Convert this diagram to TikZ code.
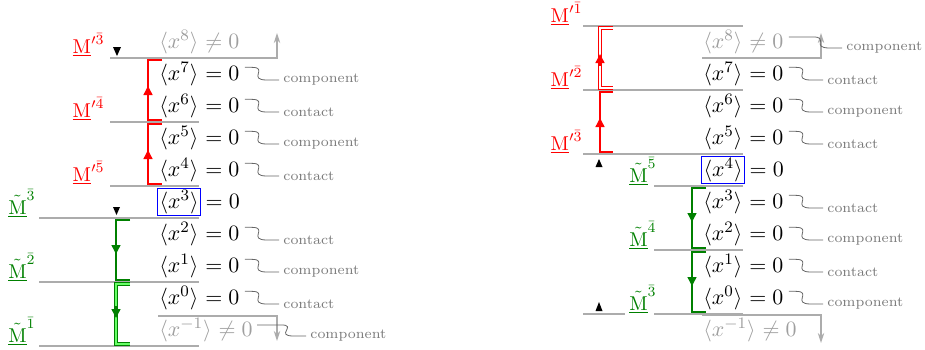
\documentclass[tikz,border=0pt]{standalone}
\usepackage{amsmath}
\usepackage{amssymb}
\usepackage{tikz}
\usetikzlibrary{arrows.meta,calc,positioning}
\usepackage{xcolor}
\definecolor{grn}{RGB}{0,128,0}
\tikzset{
  lvl/.style={line width=0.6pt, gray!65},
  outarr/.style={-{Stealth[length=5pt,width=3.2pt]}, line width=0.6pt, gray!65},
  rbr/.style={line width=0.7pt, red},
  gbr/.style={line width=0.7pt, grn},
  dbl/.style={double, double distance=0.8pt, line width=0.5pt},
  midtip/.style={-{Triangle[length=4.5pt,width=4.5pt]}},
  eqn/.style={inner sep=1pt, anchor=west, font=\fontsize{11}{13}\selectfont},
  rhs/.style={inner sep=1pt, anchor=base west, xshift=-2pt, font=\fontsize{11}{13}\selectfont},
  boxd/.style={draw=blue, line width=0.6pt, text=black},
  cmt/.style={inner sep=2pt, anchor=west, text=gray!95!black, font=\fontsize{7}{9}\selectfont},
  sq/.style={thin, black!60, to path={-- ++(#1,0) .. controls +(17,0) and ($(\tikztotarget)+(-32,0)$) .. ($(\tikztotarget)+(-12,0)$) -- (\tikztotarget)}},
  sq/.default=7,
  mlab/.style={anchor=base east, inner sep=0pt, font=\fontsize{10}{12}\selectfont},
}

\begin{document}
\begin{tikzpicture}[x=0.5pt,y=-0.5pt]
  \useasboundingbox (0,0) rectangle (925,349);

  % --- left: M' upwards, M~ downwards ---
  \draw[lvl] (110,58) -- (199,58);
  \draw[lvl] (110,122) -- (199,122);
  \draw[lvl] (110,186) -- (199,186);
  \draw[lvl] (39,218) -- (199,218);
  \draw[lvl] (39,282) -- (199,282);
  \draw[lvl] (39,346) -- (199,346);
  \draw[outarr] (158,58) -- (277,58) -- (277,33);
  \draw[outarr] (158,316) -- (277,316) -- (277,341);

  \foreach \k/\yy in {7/74,6/106,5/138,4/170,2/234,1/266,0/298}{
    \node[eqn] (lx\k) at (157,\yy) {$\langle x^{\k}\rangle$};
    \node[rhs] (lr\k) at (lx\k.base east) {${}=0$};
  }
  \node[eqn,boxd] (lx3) at (157,202) {$\langle x^{3}\rangle$};
  \node[rhs] (lr3) at (lx3.base east) {${}=0$};
  \node[eqn,text=gray!75] (lx8) at (157,42) {$\langle x^{8}\rangle$};
  \node[rhs,text=gray!75] (lr8) at (lx8.base east) {${}\neq0$};
  \node[eqn,text=gray!75] (lxm) at (157,330) {$\langle x^{-1}\rangle$};
  \node[rhs,text=gray!75] (lrm) at (lxm.base east) {${}\neq0$};

  \foreach \k/\yy/\txt in {7/74/component,6/106/contact,5/138/component,4/170/contact,2/234/contact,1/266/component,0/298/contact}{
    \node[cmt] (lc\k) at (279,\yy+6) {\txt};
    \draw[sq] ($(lr\k.east)+(3,-6)$) to (lc\k.west);
  }
  \node[cmt] (lcm) at (306,336) {component};
  \draw[sq=24] ($(lrm.east)+(2,-6)$) to (lcm.west);

  \draw[rbr] (162,60) -| (148,120) -- (162,120);
  \draw[rbr,midtip] (148,98) -- (148,86);
  \draw[rbr] (162,124) -| (148,184) -- (162,184);
  \draw[rbr,midtip] (148,162) -- (148,150);
  \draw[gbr] (130,220) -| (116,280) -- (130,280);
  \draw[gbr,midtip] (116,242) -- (116,254);
  \draw[gbr,dbl,double=green!60] (130,284) -| (116,344) -- (130,344);
  \draw[gbr,midtip] (116,306) -- (116,318);

  \node[mlab,text=red] (mp3) at (105,53) {$\underline{\mathrm{M}}'^{\bar{3}}$};
  \node[mlab,text=red] (mp4) at (105,117) {$\underline{\mathrm{M}}'^{\bar{4}}$};
  \node[mlab,text=red] (mp5) at (105,181) {$\underline{\mathrm{M}}'^{\bar{5}}$};
  \node[mlab,text=grn] (mt3) at (36,214) {$\underline{\tilde{\mathrm{M}}}^{\bar{3}}$};
  \node[mlab,text=grn] (mt2) at (36,278) {$\underline{\tilde{\mathrm{M}}}^{\bar{2}}$};
  \node[mlab,text=grn] (mt1) at (36,342) {$\underline{\tilde{\mathrm{M}}}^{\bar{1}}$};

  \fill (113,47) -- (121,47) -- (117,56) -- cycle;
  \fill (113,207) -- (120,207) -- (116.5,215) -- cycle;

  % --- right: same frame, roles swapped ---
  \begin{scope}[xshift=272pt]
    \draw[lvl] (39,26) -- (199,26);
    \draw[lvl] (39,90) -- (199,90);
    \draw[lvl] (39,154) -- (199,154);
    \draw[lvl] (110,186) -- (199,186);
    \draw[lvl] (110,250) -- (199,250);
    \draw[lvl] (39,314) -- (81,314);
    \draw[lvl] (110,314) -- (199,314);
    \draw[outarr] (158,58) -- (277,58) -- (277,33);
    \draw[outarr] (158,315) -- (277,315) -- (277,343);

    \foreach \k/\yy in {7/74,6/106,5/138,3/202,2/234,1/266,0/298}{
      \node[eqn] (rx\k) at (157,\yy) {$\langle x^{\k}\rangle$};
      \node[rhs] (rr\k) at (rx\k.base east) {${}=0$};
    }
    \node[eqn,boxd] (rx4) at (157,170) {$\langle x^{4}\rangle$};
    \node[rhs] (rr4) at (rx4.base east) {${}=0$};
    \node[eqn,text=gray!75] (rx8) at (157,42) {$\langle x^{8}\rangle$};
    \node[rhs,text=gray!75] (rr8) at (rx8.base east) {${}\neq0$};
    \node[eqn,text=gray!75] (rxm) at (157,330) {$\langle x^{-1}\rangle$};
    \node[rhs,text=gray!75] (rrm) at (rxm.base east) {${}\neq0$};

    \foreach \k/\yy/\txt in {7/74/contact,6/106/component,5/138/contact,3/202/contact,2/234/component,1/266/contact,0/298/component}{
      \node[cmt] (rc\k) at (279,\yy+6) {\txt};
      \draw[sq] ($(rr\k.east)+(3,-6)$) to (rc\k.west);
    }
    \node[cmt] (rc8) at (298,48) {component};
    \draw[sq=24] ($(rr8.east)+(3,-6)$) to (rc8.west);

    \draw[rbr,dbl,double=white] (69,28) -| (56,88) -- (69,88);
    \draw[rbr,midtip] (56,66) -- (56,54);
    \draw[rbr] (69,92) -| (56,152) -- (69,152);
    \draw[rbr,midtip] (56,130) -- (56,118);
    \draw[gbr] (162,188) -| (148,248) -- (162,248);
    \draw[gbr,midtip] (148,210) -- (148,222);
    \draw[gbr] (162,252) -| (148,312) -- (162,312);
    \draw[gbr,midtip] (148,274) -- (148,286);

    \node[mlab,text=red] (rp1) at (39,22) {$\underline{\mathrm{M}}'^{\bar{1}}$};
    \node[mlab,text=red] (rp2) at (39,86) {$\underline{\mathrm{M}}'^{\bar{2}}$};
    \node[mlab,text=red] (rp3) at (39,150) {$\underline{\mathrm{M}}'^{\bar{3}}$};
    \node[mlab,text=grn] (rt5) at (113,182) {$\underline{\tilde{\mathrm{M}}}^{\bar{5}}$};
    \node[mlab,text=grn] (rt4) at (113,246) {$\underline{\tilde{\mathrm{M}}}^{\bar{4}}$};
    \node[mlab,text=grn] (rt3) at (113,310) {$\underline{\tilde{\mathrm{M}}}^{\bar{3}}$};

    \fill (51.5,167) -- (58.5,167) -- (55,159) -- cycle;
    \fill (51.5,311) -- (58.5,311) -- (55,302) -- cycle;
  \end{scope}
\end{tikzpicture}
\end{document}
